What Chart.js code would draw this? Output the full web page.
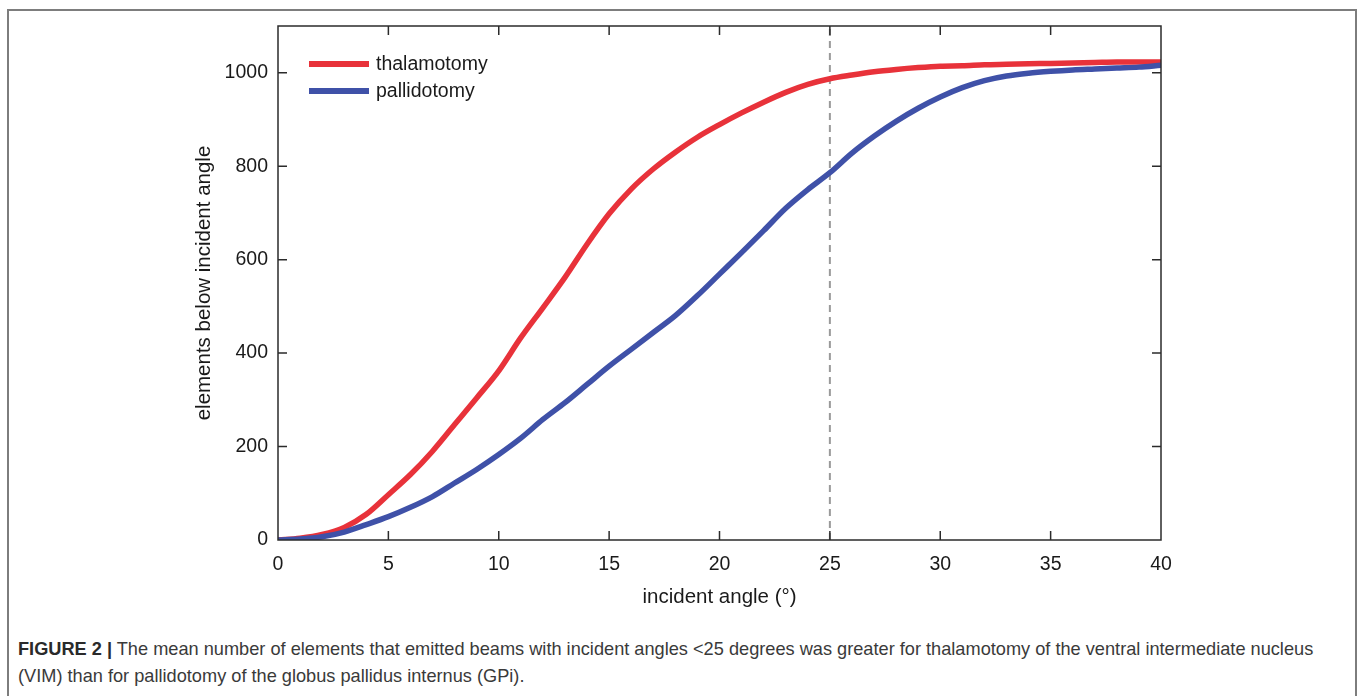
<!DOCTYPE html>
<html>
<head>
<meta charset="utf-8">
<script src="https://cdn.jsdelivr.net/npm/chart.js@4/dist/chart.umd.min.js"></script>
<style>
  html, body { margin: 0; padding: 0; background: #fff; }
  body { width: 1360px; height: 696px; position: relative; overflow: hidden; font-family: "Liberation Sans", Arial, sans-serif; }
  #frame { position: absolute; left: 7px; top: 9px; width: 1346px; height: 720px; border: 2px solid #7d7d7d; }
  #wrap { position: absolute; left: 0; top: 0; width: 1360px; height: 610px; }
  #legend { position: absolute; left: 309px; top: 50px; font-size: 19.5px; color: #1a1a1a; line-height: 27px; }
  #legend .item { display: flex; align-items: center; height: 27px; }
  #legend .sw { width: 60px; height: 6px; margin-right: 7px; }
  #caption { position: absolute; left: 18px; top: 636px; width: 1340px; font-size: 18.2px; line-height: 27px; color: #3a3a3a; white-space: nowrap; }
  #caption b { color: #2a2a2a; }
</style>
</head>
<body>
<div id="frame"></div>
<div id="wrap"><canvas id="c" width="1360" height="610"></canvas></div>
<div id="legend">
  <div class="item"><span class="sw" style="background:#e8323a"></span><span>thalamotomy</span></div>
  <div class="item"><span class="sw" style="background:#3f51a8"></span><span>pallidotomy</span></div>
</div>
<div id="caption"><b>FIGURE 2 |</b> The mean number of elements that emitted beams with incident angles &lt;25 degrees was greater for thalamotomy of the ventral intermediate nucleus<br>(VIM) than for pallidotomy of the globus pallidus internus (GPi).</div>
<script>
const angles = [0,1,2,3,4,5,6,7,8,9,10,11,12,13,14,15,16,17,18,19,20,21,22,23,24,25,26,27,28,29,30,31,32,33,34,35,36,37,38,39,40];
const thalamotomy = [0,4,12,27,55,97,140,190,247,304,362,433,497,562,633,698,751,794,830,862,889,914,937,958,975,987,995,1002,1007,1011,1014,1015,1017,1018,1019,1020,1021,1022,1023,1023,1023];
const pallidotomy = [0,2,7,17,33,50,70,93,122,151,183,218,258,294,333,372,408,444,480,523,569,615,662,710,750,786,828,864,896,924,948,968,983,993,999,1003,1006,1008,1010,1012,1016];
const cutoffAngle = 25;
const xTicks = [0,5,10,15,20,25,30,35,40];
const yTicks = [0,200,400,600,800,1000];
const seriesNames = ["thalamotomy", "pallidotomy"];

const toPts = arr => angles.map((a, i) => ({x: a, y: arr[i]}));

const frameTicks = {
  id: 'frameTicks',
  afterDatasetsDraw(chart) {
    const {ctx, chartArea: a, scales} = chart;
    ctx.save();
    ctx.strokeStyle = '#2b2b2b';
    ctx.lineWidth = 1.5;
    ctx.strokeRect(a.left, a.top, a.right - a.left, a.bottom - a.top);
    const L = 9;
    ctx.beginPath();
    scales.x.ticks.forEach(t => {
      const px = scales.x.getPixelForValue(t.value);
      if (px <= a.left + 1 || px >= a.right - 1) return;
      ctx.moveTo(px, a.bottom); ctx.lineTo(px, a.bottom - L);
      ctx.moveTo(px, a.top); ctx.lineTo(px, a.top + L);
    });
    scales.y.ticks.forEach(t => {
      const py = scales.y.getPixelForValue(t.value);
      if (py >= a.bottom - 1 || py <= a.top + 1) return;
      ctx.moveTo(a.left, py); ctx.lineTo(a.left + L, py);
      ctx.moveTo(a.right, py); ctx.lineTo(a.right - L, py);
    });
    ctx.stroke();
    ctx.restore();
  }
};

new Chart(document.getElementById('c'), {
  type: 'line',
  data: {
    datasets: [
      { label: 'cutoff', data: [{x: cutoffAngle, y: 0}, {x: cutoffAngle, y: 1100}], borderColor: '#9a9a9a', borderWidth: 2, borderDash: [7, 5], pointRadius: 0, order: 3 },
      { label: seriesNames[0], data: toPts(thalamotomy), borderColor: '#e8323a', borderWidth: 5.5, pointRadius: 0, cubicInterpolationMode: 'monotone', order: 2 },
      { label: seriesNames[1], data: toPts(pallidotomy), borderColor: '#3f51a8', borderWidth: 5.5, pointRadius: 0, cubicInterpolationMode: 'monotone', order: 1 }
    ]
  },
  options: {
    responsive: false,
    animation: false,
    layout: { padding: { left: 192, top: 26, right: 199, bottom: 0 } },
    plugins: { legend: { display: false }, tooltip: { enabled: false } },
    scales: {
      x: {
        type: 'linear', min: 0, max: 40,
        grid: { display: false, drawTicks: false },
        border: { display: false },
        afterBuildTicks: s => { s.ticks = xTicks.map(v => ({value: v})); },
        afterFit: s => { s.height = 70; },
        ticks: { padding: 13, color: '#1a1a1a', font: { family: 'Liberation Sans', size: 19.5 }, maxRotation: 0, callback: v => String(v) },
        title: { display: true, text: 'incident angle (°)', color: '#1a1a1a', font: { family: 'Liberation Sans', size: 20.5 }, padding: { top: 8, bottom: 0 } }
      },
      y: {
        type: 'linear', min: 0, max: 1100,
        grid: { display: false, drawTicks: false },
        border: { display: false },
        afterBuildTicks: s => { s.ticks = yTicks.map(v => ({value: v})); },
        afterFit: s => { s.width = 86; },
        ticks: { padding: 10, color: '#1a1a1a', font: { family: 'Liberation Sans', size: 19.5 }, callback: v => String(v) },
        title: { display: true, text: 'elements below incident angle', color: '#1a1a1a', font: { family: 'Liberation Sans', size: 20.5 }, padding: { top: 0, bottom: 0 } }
      }
    }
  },
  plugins: [frameTicks]
});
</script>
</body>
</html>
